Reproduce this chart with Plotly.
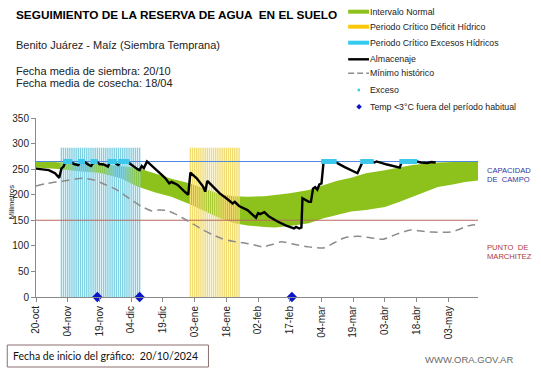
import plotly.graph_objects as go
import pandas as pd

# ---------------- data ----------------
START = "2024-10-20"
END_DAY = 209  # last day shown on the x axis (days after START)

tick_day = [0, 15, 30, 45, 60, 75, 90, 105, 120, 135, 150, 165, 180, 195]
tick_text = ["20-oct", "04-nov", "19-nov", "04-dic", "19-dic", "03-ene", "18-ene",
             "02-feb", "17-feb", "04-mar", "19-mar", "03-abr", "18-abr", "03-may"]

# Intervalo normal (band)
band_day = [0, 5, 12, 20, 30, 40, 48, 56, 64, 73, 80, 87, 94, 100, 108, 113, 120,
            129, 136, 142, 149, 156, 165, 172, 178, 185, 190, 197, 203, 209]
band_upper = [265, 265, 263, 262, 260, 256, 252, 242, 231, 222, 212, 201, 197, 196, 197,
              199, 203, 209, 219, 227, 233, 242, 248, 254, 258, 261, 263, 264, 265, 265]
band_lower = [253, 252, 250, 246, 243, 232, 216, 205, 196, 181, 168, 154, 144, 140, 137,
              136, 139, 144, 154, 160, 167, 170, 176, 186, 196, 207, 215, 220, 225, 228]

# Almacenaje
alm_day = [0, 3, 6, 9, 11, 12, 13, 14, 16, 18, 20, 21, 23, 25, 26, 27, 28, 29, 30, 32,
           33, 34, 35, 37, 38, 39, 40, 43, 44, 46, 47, 48, 49, 50, 51, 52.5, 55, 58, 61,
           63, 64, 65, 67, 70, 72, 73, 76, 79, 80, 81, 84, 87, 90, 93, 94, 96, 100, 103,
           104, 105, 106, 108, 110, 114, 118, 122, 123, 124.5, 125.5, 126, 127, 129, 130,
           131, 132, 133, 134, 135, 136, 141, 146, 152, 154.5, 159, 160, 161, 166, 172,
           173, 180, 182, 185, 187, 189]
alm_val = [251, 250, 248, 242, 233, 251, 255, 265, 265, 260, 258, 265, 264, 258, 256, 262,
           265, 264, 260, 259, 257, 255, 265, 265, 260, 258, 265, 265, 262, 257, 253, 250,
           248, 256, 252, 265, 255, 245, 233, 222, 225, 223, 219, 207, 200, 243, 232, 216,
           206, 227, 214, 202, 193, 183, 186, 178, 170, 158, 155, 164, 162, 166, 158, 148,
           140, 134, 137, 134, 136, 193, 191, 186, 186, 212, 215, 210, 220, 222, 265, 265,
           254, 242, 265, 265, 263, 265, 259, 253, 265, 265, 263, 262, 264, 263]

# Minimo historico
min_day = [0, 5, 12, 22, 28, 32, 38, 44, 50, 55, 58, 62, 66, 70, 75, 79, 84, 88, 93, 98,
           103, 107, 112, 116, 122, 129, 136, 141, 146, 152, 158, 164, 170, 177, 182, 187,
           196, 200, 204, 209]
min_val = [217, 222, 226, 232, 228, 221, 210, 193, 177, 168, 170, 169, 162, 153, 141, 131,
           121, 114, 109, 106, 102, 98, 103, 108, 103, 98, 96, 106, 116, 119, 116, 113,
           122, 131, 129, 127, 127, 132, 139, 142]

# Exceso (days with excess water, at field capacity)
exceso_day = [14, 15, 16, 21, 22, 27, 28, 35, 36, 37, 40, 41, 42, 43,
              136, 137, 138, 139, 140, 141, 154.5, 155.5, 156.5, 157.5, 158.5,
              173, 174, 176, 177, 178, 179]
exceso_val = [265] * len(exceso_day)

# Temp < 3 C fuera del periodo habitual
temp_day = [29, 49, 121]
temp_val = [0, 0, 0]

# Critical periods (start day, end day) and bar height
exc_period = [12, 49]
def_period = [73, 96]
period_top = 292

CAPACIDAD = 265
MARCHITEZ = 150

# ---------------- helpers ----------------
base = pd.Timestamp(START)


def to_date(days):
    return [None if d is None else base + pd.Timedelta(days=d) for d in days]


W, H = 541, 368
L, R, T, B = 32, 63, 118, 71
PW, PH = W - L - R, H - T - B


def xp(px):
    return (px - L) / PW


def yp(py):
    return (H - B - py) / PH


FONT = "Liberation Sans, Arial, sans-serif"

fig = go.Figure()

# green band
fig.add_trace(go.Scatter(x=to_date(band_day), y=band_lower, mode="lines",
                         line=dict(width=0, color="#8dc21c"), showlegend=False,
                         hoverinfo="skip"))
fig.add_trace(go.Scatter(x=to_date(band_day), y=band_upper, mode="lines", fill="tonexty",
                         fillcolor="#8dc21c", line=dict(width=0, color="#8dc21c"),
                         showlegend=False, name="Intervalo Normal"))


def stripes(period, top):
    xs, ys = [], []
    for d in range(period[0], period[1] + 1):
        xs += [d, d, None]
        ys += [0, top, None]
    return to_date(xs), ys


sx, sy = stripes(exc_period, period_top)
fig.add_trace(go.Scatter(x=sx, y=sy, mode="lines", line=dict(width=1.4, color="#80d0e2"),
                         showlegend=False, hoverinfo="skip", connectgaps=False))
sx, sy = stripes(def_period, period_top)
fig.add_trace(go.Scatter(x=sx, y=sy, mode="lines", line=dict(width=1.4, color="#f0dc70"),
                         showlegend=False, hoverinfo="skip", connectgaps=False))

# reference lines
fig.add_trace(go.Scatter(x=to_date([0, END_DAY]), y=[CAPACIDAD, CAPACIDAD], mode="lines",
                         line=dict(width=1.1, color="#4f8ae0"), showlegend=False))
fig.add_trace(go.Scatter(x=to_date([0, END_DAY]), y=[MARCHITEZ, MARCHITEZ], mode="lines",
                         line=dict(width=1.1, color="#b86a5e"), showlegend=False))

# minimo historico
fig.add_trace(go.Scatter(x=to_date(min_day), y=min_val, mode="lines",
                         line=dict(width=1.5, color="#8c8c8c", dash="8px,5px", shape="spline",
                                   smoothing=0.6),
                         showlegend=False))

# almacenaje
fig.add_trace(go.Scatter(x=to_date(alm_day), y=alm_val, mode="lines",
                         line=dict(width=2.4, color="black"), showlegend=False))

# exceso
fig.add_trace(go.Scatter(x=to_date(exceso_day), y=exceso_val, mode="markers",
                         marker=dict(symbol="square", size=5, color="#3cc8ec"),
                         showlegend=False))

# temp
fig.add_trace(go.Scatter(x=to_date(temp_day), y=temp_val, mode="markers", cliponaxis=False,
                         marker=dict(symbol="diamond", size=8, color="#0a14c8"),
                         showlegend=False))

# ---------------- layout ----------------
fig.update_layout(
    width=W, height=H, margin=dict(l=L, r=R, t=T, b=B, pad=0),
    paper_bgcolor="white", plot_bgcolor="white",
    font=dict(family=FONT, size=10, color="#222"),
    showlegend=False,
    xaxis=dict(type="date", range=[base, base + pd.Timedelta(days=END_DAY)],
               tickvals=to_date(tick_day), ticktext=tick_text, tickangle=-90,
               showgrid=False, zeroline=False, showline=True, linecolor="#8a8a8a",
               linewidth=1, ticks="outside", ticklen=4, tickcolor="#8a8a8a",
               tickfont=dict(size=10, color="#222")),
    yaxis=dict(range=[0, 350], tickvals=[0, 50, 100, 150, 200, 250, 300, 350],
               showgrid=False, zeroline=False, showline=True, linecolor="#8a8a8a",
               linewidth=1, ticks="outside", ticklen=4, tickcolor="#8a8a8a",
               tickfont=dict(size=10, color="#222")),
)

ann = []
shapes = []


def text(px, py, s, size, color="#111", anchor="left", bold=False, angle=0, family=FONT):
    ann.append(dict(x=xp(px), y=yp(py), xref="paper", yref="paper", text=s, showarrow=False,
                    xanchor=anchor, yanchor="middle", textangle=angle,
                    font=dict(size=size, color=color, family=family)))


text(10, 15, "<b>SEGUIMIENTO DE LA RESERVA DE AGUA  EN EL SUELO</b>", 11.8, "#000")
text(10, 45, "Benito Juárez - Maíz (Siembra Temprana)", 11, "#222")
text(10, 71, "Fecha media de siembra: 20/10", 11, "#222")
text(10, 83, "Fecha media de cosecha: 18/04", 11, "#222")

# right side labels
text(485, 170, "CAPACIDAD", 7.6, "#34349a")
text(485, 179, "DE  CAMPO", 7.6, "#34349a")
text(485, 247, "PUNTO  DE", 7.6, "#b03a3a")
text(485, 256, "MARCHITEZ", 7.6, "#b03a3a")

# y axis title
text(7, 202, "Milimetros", 7.5, "#222", anchor="center", angle=-90)

# legend (manual)
leg_y = [11.7, 26.7, 42.7, 59.3, 73.3, 90, 106.7]
leg_text = ["Intervalo Normal", "Periodo Crítico Déficit Hídrico",
            "Periodo Crítico Excesos Hídricos", "Almacenaje", "Mínimo histórico",
            "Exceso", "Temp <3°C fuera del período habitual"]
for yy, tt in zip(leg_y, leg_text):
    text(367, yy, tt, 8.8, "#222")

for yy, col in zip(leg_y[:3], ["#8dc21c", "#fcc80a", "#33ccf0"]):
    shapes.append(dict(type="rect", xref="paper", yref="paper", x0=xp(347), x1=xp(368),
                       y0=yp(yy + 2), y1=yp(yy - 2), fillcolor=col, line=dict(width=0)))
shapes.append(dict(type="line", xref="paper", yref="paper", x0=xp(347), x1=xp(368),
                   y0=yp(leg_y[3]), y1=yp(leg_y[3]), line=dict(color="black", width=2.4)))
shapes.append(dict(type="line", xref="paper", yref="paper", x0=xp(347), x1=xp(368),
                   y0=yp(leg_y[4]), y1=yp(leg_y[4]),
                   line=dict(color="#8c8c8c", width=1.5, dash="6px,3px")))
shapes.append(dict(type="rect", xref="paper", yref="paper", x0=xp(356.5), x1=xp(359),
                   y0=yp(leg_y[5] + 1.3), y1=yp(leg_y[5] - 1.3), fillcolor="#3cc8ec",
                   line=dict(width=0)))
cx, cy, r = 358, leg_y[6], 2.8
shapes.append(dict(type="path", xref="paper", yref="paper",
                   path=f"M {xp(cx)} {yp(cy - r)} L {xp(cx + r)} {yp(cy)} L {xp(cx)} {yp(cy + r)} "
                        f"L {xp(cx - r)} {yp(cy)} Z",
                   fillcolor="#0a14c8", line=dict(width=0)))

# bottom box
shapes.append(dict(type="rect", xref="paper", yref="paper", x0=xp(3), x1=xp(206),
                   y0=yp(367), y1=yp(345), line=dict(color="#8a6f6f", width=1),
                   fillcolor="rgba(0,0,0,0)"))
text(7, 356, "Fecha de inicio del gráfico:  20/10/2024", 10.5, "#111", family="Lato, sans-serif")
text(422, 359, "WWW.ORA.GOV.AR", 9.5, "#6a6a6a")

fig.update_layout(annotations=ann, shapes=shapes)

fig.write_html("out.html", config={"displayModeBar": False},
               post_script="document.body.style.margin='0px';document.body.style.overflow='hidden';")
